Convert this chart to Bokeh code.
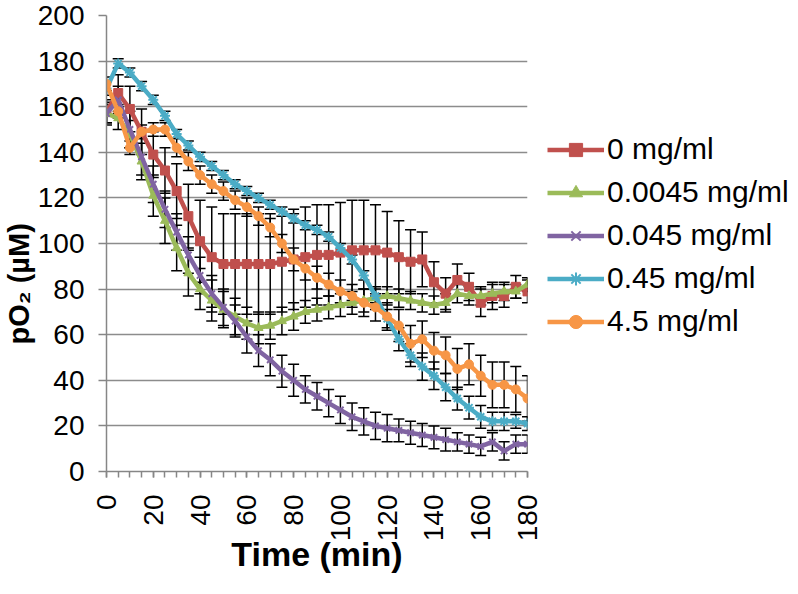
from bokeh.plotting import figure
from bokeh.models import (ColumnDataSource, Range1d, SingleIntervalTicker, Whisker, TeeHead,
                          Legend, LegendItem, Title)
from bokeh.embed import file_html
from bokeh.resources import INLINE
import math

# ---------------- data ----------------
time_min = [0, 5, 10, 15, 20, 25, 30, 35, 40, 45, 50, 55, 60, 65, 70, 75, 80, 85, 90,
            95, 100, 105, 110, 115, 120, 125, 130, 135, 140, 145, 150, 155, 160, 165, 170, 175, 180]

series_names = ["0 mg/ml", "0.0045 mg/ml", "0.045 mg/ml", "0.45 mg/ml", "4.5 mg/ml"]

po2_0 = [158, 166, 159, 149, 139, 132, 123, 112, 101, 94, 91, 91, 91, 91, 91, 92, 93, 94, 95,
         95, 96, 97, 97, 97, 96, 94, 92, 93, 83, 78, 84, 81, 74, 77, 77, 81, 79]
po2_0045 = [157, 155, 148, 136, 121, 110, 98, 87, 80, 75, 71, 68, 65, 63, 64, 66, 68, 70, 71,
            72, 73, 74, 75, 76, 77, 76, 75, 74, 73, 74, 78, 77, 77, 78, 79, 79, 82]
po2_045 = [157, 163, 150, 138, 126, 115, 105, 95, 86, 78, 72, 66, 59, 53, 49, 44, 40, 36, 33,
           30, 27, 24, 22, 20, 19, 18, 17, 16, 15, 14, 13, 12, 11, 13, 9, 12, 12]
po2_45 = [168, 179, 175, 169, 163, 156, 148, 143, 138, 134, 130, 126, 123, 120, 117, 114, 111, 108, 106,
          103, 98, 93, 86, 77, 67, 58, 51, 46, 42, 37, 32, 28, 24, 22, 22, 22, 21]
po2_4_5 = [170, 158, 142, 149, 150, 150, 142, 136, 130, 126, 123, 119, 116, 112, 107, 100, 93, 89, 85,
           82, 79, 77, 74, 72, 68, 64, 56, 58, 53, 51, 45, 47, 42, 38, 38, 36, 32]

err_0 = [5, 8, 10, 10, 10, 10, 12, 14, 18, 22, 22, 22, 22, 22, 22, 22, 22, 22, 22,
         22, 22, 22, 22, 20, 18, 16, 14, 12, 9, 7, 7, 6, 6, 6, 5, 5, 5]
err_0045 = [4, 5, 6, 8, 9, 10, 10, 10, 9, 9, 8, 8, 7, 7, 6, 6, 6, 5, 5,
            5, 5, 5, 5, 5, 4, 4, 4, 4, 4, 4, 4, 4, 4, 4, 4, 3, 3]
err_045 = [5, 6, 8, 8, 8, 8, 8, 8, 8, 8, 8, 7, 7, 7, 7, 7, 7, 6, 6,
           6, 6, 6, 6, 6, 6, 5, 5, 5, 5, 5, 4, 4, 4, 4, 4, 4, 4]
err_45 = [3, 2, 2, 2, 2, 2, 2, 2, 2, 2, 2, 2, 2, 2, 2, 2, 2, 2, 2,
          2, 2, 2, 2, 3, 4, 5, 5, 6, 6, 6, 5, 5, 5, 4, 4, 3, 3]
err_4_5 = [3, 3, 3, 3, 3, 3, 4, 4, 4, 4, 4, 4, 4, 4, 4, 4, 5, 5, 5,
           5, 5, 5, 6, 6, 6, 7, 8, 8, 8, 8, 9, 9, 9, 10, 10, 10, 10]

y_ticks = [0, 20, 40, 60, 80, 100, 120, 140, 160, 180, 200]

values = [po2_0, po2_0045, po2_045, po2_45, po2_4_5]
errors = [err_0, err_0045, err_045, err_45, err_4_5]
colors = ["#C0504D", "#9BBB59", "#8064A2", "#4BACC6", "#F79646"]
markers = ["square", "triangle", "x", "asterisk", "circle"]

FONT = "Liberation Sans"

p = figure(frame_width=421, frame_height=456, output_backend="svg", toolbar_location=None,
           x_range=Range1d(0, 180), y_range=Range1d(0, 200),
           min_border_left=99, min_border_right=262, min_border_top=15, min_border_bottom=106)
p.outline_line_color = None
p.background_fill_color = "white"

# grid
p.xgrid.grid_line_color = None
p.ygrid.grid_line_color = "#8C8C8C"
p.ygrid.grid_line_width = 1.5
p.ygrid.ticker = y_ticks

# axes
p.xaxis.ticker = SingleIntervalTicker(interval=20, num_minor_ticks=4)
p.yaxis.ticker = y_ticks
for ax in (p.xaxis[0], p.yaxis[0]):
    ax.axis_line_color = "#868686"
    ax.axis_line_width = 1.5
    ax.major_tick_line_color = "#868686"
    ax.major_tick_line_width = 1.5
    ax.major_tick_in = 0
    ax.major_label_text_font = FONT
    ax.major_label_text_font_size = "28px"
    ax.major_label_text_color = "black"
    ax.axis_label_text_font = FONT
    ax.axis_label_text_font_size = "34px"
    ax.axis_label_text_font_style = "bold"
    ax.axis_label_text_color = "black"
p.xaxis.minor_tick_line_color = "#868686"
p.xaxis.minor_tick_line_width = 1.5
p.xaxis.minor_tick_in = 0
p.xaxis.minor_tick_out = 6
p.xaxis.major_tick_out = 6
p.xaxis.major_label_orientation = math.pi / 2
p.xaxis.major_label_standoff = 17
p.xaxis.axis_label = "Time (min)"
p.xaxis.axis_label_standoff = -9
p.yaxis.minor_tick_line_color = None
p.yaxis.major_tick_out = 8
p.yaxis.major_label_standoff = 14

# y axis title as a side title so that it can sit low like the original
ytitle = Title(text="pO\u2082 (\u00b5M)", align="left", offset=127, standoff=0,
               text_font=FONT, text_font_size="29px", text_font_style="bold", text_color="black")
p.add_layout(ytitle, "left")

# error bars first (under lines)
for vals, errs in zip(values, errors):
    src = ColumnDataSource(dict(t=time_min,
                                up=[v + e for v, e in zip(vals, errs)],
                                lo=[v - e for v, e in zip(vals, errs)]))
    w = Whisker(source=src, base="t", upper="up", lower="lo", dimension="height",
                line_color="black", line_width=1.5,
                upper_head=TeeHead(size=11, line_color="black", line_width=1.5),
                lower_head=TeeHead(size=11, line_color="black", line_width=1.5))
    p.add_layout(w)

items = []
for name, vals, col, mk in zip(series_names, values, colors, markers):
    src = ColumnDataSource(dict(t=time_min, v=vals))
    ln = p.line("t", "v", source=src, line_color=col, line_width=4.5)
    sc = p.scatter("t", "v", source=src, marker=mk, size=9 if mk != "asterisk" else 10,
                   fill_color=col, line_color=col, line_width=2 if mk in ("x", "asterisk") else 1)
    items.append(LegendItem(label=name, renderers=[ln, sc]))

legend = Legend(items=items, location=(20, 133))
legend.border_line_color = None
legend.background_fill_alpha = 0
legend.margin = 0
legend.padding = 0
legend.glyph_width = 57
legend.glyph_height = 33
legend.label_height = 33
legend.spacing = 9
legend.label_standoff = 3
legend.label_text_font = FONT
legend.label_text_font_size = "30px"
legend.label_text_color = "black"
p.add_layout(legend, "right")

open("out.html", "w").write(file_html(p, INLINE))
